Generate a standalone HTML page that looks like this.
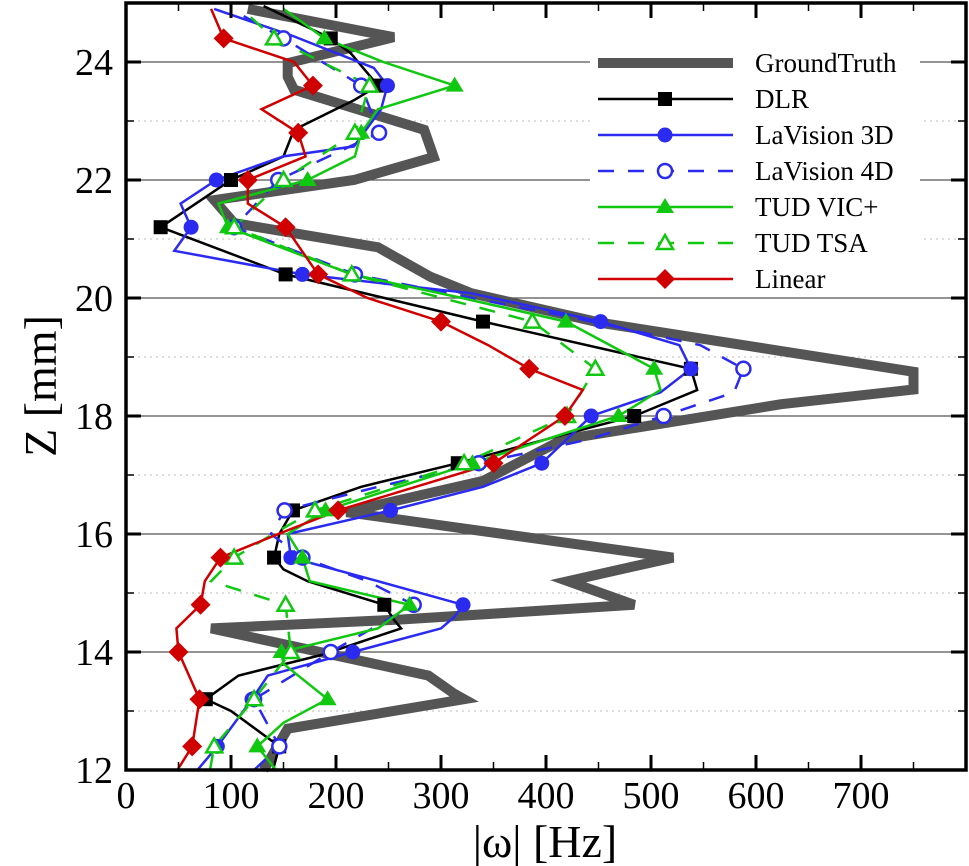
<!DOCTYPE html>
<html><head><meta charset="utf-8"><style>
html,body{margin:0;padding:0;background:#fff;}
svg{display:block;font-family:"Liberation Serif",serif;}
</style></head><body>
<svg id="chart" width="969" height="866" viewBox="0 0 969 866" xmlns="http://www.w3.org/2000/svg">
<g id="grid"></g>
<g id="series"></g>
<g id="axes"></g>
<g id="legend"></g>
<text x="0" y="0" transform="translate(56,386) rotate(-90)" text-anchor="middle" font-size="46">Z [mm]</text>
<text x="545" y="857" text-anchor="middle" font-size="46">|ω| [Hz]</text>
</svg>
<script>
// ---- data ----
const gtZ = [12.0,12.7,13.2,13.3,13.6,14.4,14.55,14.8,15.2,15.6,16.37,16.9,17.6,18.2,18.45,18.75,19.58,20.08,20.36,20.86,21.27,21.66,22.0,22.39,22.85,23.53,23.75,23.98,24.42,24.9];
const gtV = [131,154,322,312,288,81,262,484,421,521,210,340,416,624,750,750,452,329,290,240,103,84,217,293,284,160,154,154,255,116];

const dlrZ = [12.0,12.4,13.0,13.2,13.6,13.95,14.4,14.55,14.8,15.2,15.4,15.6,16.0,16.4,16.8,17.2,17.7,18.0,18.44,18.8,19.6,20.4,21.2,22.0,22.4,22.85,23.35,23.6,24.15,24.4,24.95];
const dlrV = [140,146,100,76,107,186,262,255,246,173,150,141,146,159,224,316,420,484,544,538,340,152,33,100,150,160,217,240,214,195,131];

const lv3Z = [12.0,12.4,13.2,13.6,14.0,14.4,14.6,14.8,15.2,15.6,16.0,16.4,16.8,17.2,18.0,18.4,18.8,19.2,19.6,20.08,20.4,20.8,21.2,21.6,22.0,22.4,22.57,23.2,23.6,23.9,24.44,24.9];
const lv3V = [68,87,120,135,216,300,313,321,240,157,154,252,340,396,443,509,538,527,452,329,168,46,62,52,86,150,217,243,249,236,159,84];

const lv4Z = [12.0,12.4,13.2,14.0,14.8,15.2,15.6,16.0,16.4,16.8,17.2,17.6,18.0,18.4,18.8,19.2,19.66,20.0,20.4,21.2,22.0,22.8,23.6,24.4,24.9];
const lv4V = [122,146,122,195,274,230,168,138,151,240,336,440,512,579,588,547,428,330,218,103,145,241,224,150,100];

const vicZ = [12.0,12.4,12.8,13.2,13.8,14.0,14.4,14.8,15.2,15.6,16.0,16.4,17.2,18.0,18.44,18.8,19.6,20.0,20.4,21.2,21.6,22.0,22.4,22.8,23.2,23.6,24.0,24.4,24.9];
const vicV = [143,125,150,192,150,148,240,270,175,168,154,190,330,469,509,503,419,320,215,97,88,173,218,224,240,313,245,189,150];

const tsaZ = [12.0,12.4,13.2,14.0,14.8,15.2,15.6,16.0,16.4,17.2,18.0,18.8,19.6,20.4,21.2,22.0,22.8,23.6,24.4,24.9];
const tsaV = [80,84,122,157,152,81,103,140,180,322,420,447,387,215,103,150,218,232,141,110];

const linZ = [12.0,12.4,13.2,14.0,14.4,14.8,15.2,15.6,16.0,16.4,17.2,18.0,18.44,18.8,19.2,19.6,20.0,20.4,21.2,21.6,22.0,22.4,22.8,23.2,23.6,24.0,24.4,24.9];
const linV = [49,63,70,50,48,71,75,90,145,202,350,418,435,384,345,300,230,183,152,116,116,171,164,129,178,160,93,81];

const xTicks = [0,100,200,300,400,500,600,700];
const xTickLabels = ["0","100","200","300","400","500","600","700"];
const yTicks = [12,14,16,18,20,22,24];
const yTickLabels = ["12","14","16","18","20","22","24"];

// ---- axes functions ----
const X0=126, X1=966, Y0=770, Y1=3;
const xs = v => X0 + v*1.05;
const ys = z => Y0 - (z-12)*59;
const NS='http://www.w3.org/2000/svg';
function mk(tag, attrs, parent){const e=document.createElementNS(NS,tag);for(const k in attrs)e.setAttribute(k,attrs[k]);parent.appendChild(e);return e;}

const grid=document.getElementById('grid');
for(let z=13; z<25; z++){
  const even = z%2===0;
  const l=mk('line',{x1:X0,x2:X1,y1:ys(z),y2:ys(z),stroke:even?'#555':'#bbb','stroke-width':even?1.3:1,'stroke-dasharray':even?'none':'2,4'},grid);
  
  
}

// series
const seriesG=document.getElementById('series');
function drawLine(zArr,vArr,color,w,dash,name){
  const pts=zArr.map((z,i)=>xs(vArr[i]).toFixed(1)+','+ys(z).toFixed(1)).join(' ');
  const p=mk('polyline',{points:pts,fill:'none',stroke:color,'stroke-width':w,'stroke-linejoin':'miter','stroke-dasharray':dash||'none'},seriesG);
  
  
}
function marker(type,cx,cy,color,parent){
  let e;
  if(type==='square') e=mk('rect',{x:cx-7,y:cy-7,width:14,height:14,fill:color},parent);
  else if(type==='circle') e=mk('circle',{cx:cx,cy:cy,r:7.5,fill:color},parent);
  else if(type==='ocircle') e=mk('circle',{cx:cx,cy:cy,r:7,fill:'#fff',stroke:color,'stroke-width':2.5},parent);
  else if(type==='tri') e=mk('polygon',{points:`${cx},${cy-9} ${cx+9},${cy+6} ${cx-9},${cy+6}`,fill:color},parent);
  else if(type==='otri') e=mk('polygon',{points:`${cx},${cy-8} ${cx+8},${cy+6} ${cx-8},${cy+6}`,fill:'#fff',stroke:color,'stroke-width':2.5},parent);
  else if(type==='diamond') e=mk('polygon',{points:`${cx},${cy-10} ${cx+10},${cy} ${cx},${cy+10} ${cx-10},${cy}`,fill:color},parent);
  return e;
}
function drawMarkers(zArr,vArr,type,color,name){
  zArr.forEach((z,i)=>{
    const k=(z-12.4)/0.8;
    if(Math.abs(k-Math.round(k))<0.03 && z<=24.5){
      const m=marker(type,xs(vArr[i]),ys(z),color,seriesG);
      
      
    }
  });
}
drawLine(gtZ,gtV,'#555',10,null,'groundtruth-line');
drawLine(dlrZ,dlrV,'#000',2.5,null,'dlr-line');
drawLine(lv3Z,lv3V,'#2a2af0',2.5,null,'lavision-3d-line');
drawLine(lv4Z,lv4V,'#2a2af0',2.5,'16,14','lavision-4d-line');
drawLine(vicZ,vicV,'#10c810',2.5,null,'tud-vic-line');
drawLine(tsaZ,tsaV,'#10c810',2.5,'16,14','tud-tsa-line');
drawLine(linZ,linV,'#d00000',2.5,null,'linear-line');
drawMarkers(dlrZ,dlrV,'square','#000','dlr-marker');
drawMarkers(lv3Z,lv3V,'circle','#2a2af0','lavision-3d-marker');
drawMarkers(lv4Z,lv4V,'ocircle','#2a2af0','lavision-4d-marker');
drawMarkers(vicZ,vicV,'tri','#10c810','tud-vic-marker');
drawMarkers(tsaZ,tsaV,'otri','#10c810','tud-tsa-marker');
drawMarkers(linZ,linV,'diamond','#d00000','linear-marker');

// axes
const axes=document.getElementById('axes');
const frame=mk('rect',{x:X0,y:Y1,width:X1-X0,height:Y0-Y1,fill:'none',stroke:'#000','stroke-width':3.5},axes);


for(let v=50; v<800; v+=50){
  const major=v%100===0, L=major?15:8;
  [[Y0,-1],[Y1,1]].forEach(([yb,d])=>{
    const t=mk('line',{x1:xs(v),x2:xs(v),y1:yb,y2:yb+d*L,stroke:'#000','stroke-width':major?3:1.5},axes);
    
    
  });
}
for(let z=13; z<25; z++){
  const major=z%2===0, L=major?15:8;
  [[X0,1],[X1,-1]].forEach(([xb,d])=>{
    const t=mk('line',{x1:xb,x2:xb+d*L,y1:ys(z),y2:ys(z),stroke:'#000','stroke-width':major?3:1.5},axes);
    
    
  });
}
xTicks.forEach((v,i)=>{
  const t=mk('text',{x:xs(v),y:808,'text-anchor':'middle','font-size':38},axes);
  t.textContent=xTickLabels[i];
  
  
});
yTicks.forEach((z,i)=>{
  const t=mk('text',{x:113,y:ys(z)+13,'text-anchor':'end','font-size':38},axes);
  t.textContent=yTickLabels[i];
  
  
});

// legend
const lg=document.getElementById('legend');
const bg=mk('rect',{x:590,y:44,width:330,height:252,fill:'#fff'},lg);


const legNames=['GroundTruth','DLR','LaVision 3D','LaVision 4D','TUD VIC+','TUD TSA','Linear'];
const legColors=['#555','#000','#2a2af0','#2a2af0','#10c810','#10c810','#d00000'];
const legMarkers=[null,'square','circle','ocircle','tri','otri','diamond'];
const legDash=[null,null,null,'16,14',null,'16,14',null];
legNames.forEach((n,i)=>{
  const y=63+i*36;
  const g=mk('g',{},lg);
  
  
  mk('line',{x1:598,x2:733,y1:y,y2:y,stroke:legColors[i],'stroke-width':i===0?10:2.5,'stroke-dasharray':legDash[i]||'none'},g);
  if(legMarkers[i]) marker(legMarkers[i],665,y,legColors[i],g);
  const t=mk('text',{x:755,y:y+9,'font-size':27},g);
  t.textContent=n;
});
</script>
</body></html>
